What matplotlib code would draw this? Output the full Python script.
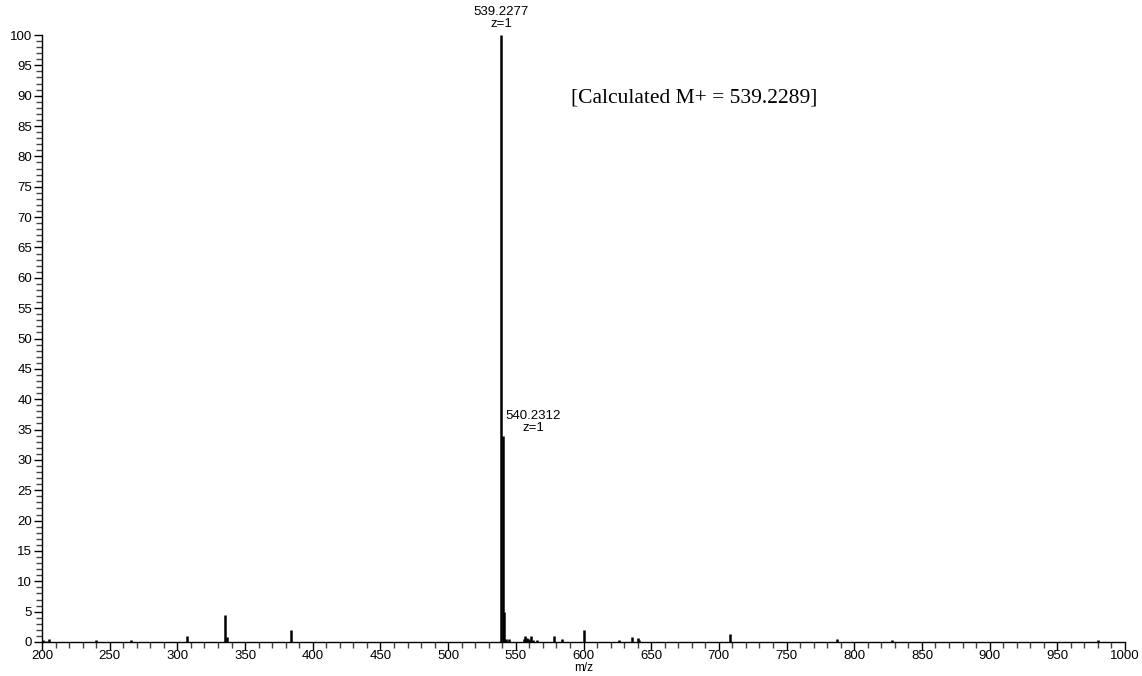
import matplotlib
matplotlib.use("Agg")
import matplotlib.pyplot as plt
from matplotlib.ticker import MultipleLocator

# peak list (m/z, relative abundance %)
mz = [201.0, 203.0, 205.0, 240.0, 266.0, 307.0, 335.5, 336.5, 384.0,
      539.23, 540.23, 541.2, 542.5, 545.0, 556.0, 557.0, 558.5, 559.5,
      561.5, 562.5, 566.0, 578.0, 584.0, 600.0, 626.0, 636.0, 640.0,
      641.0, 708.5, 787.0, 828.0, 980.0]
intensity = [0.3, 0.2, 0.5, 0.3, 0.4, 1.0, 4.5, 0.8, 1.9,
             100.0, 34.0, 5.0, 0.5, 0.5, 0.5, 1.0, 0.6, 0.5,
             1.0, 0.3, 0.4, 1.0, 0.5, 2.0, 0.3, 0.8, 0.7,
             0.4, 1.3, 0.5, 0.4, 0.3]

peak_labels = ["539.2277\nz=1", "540.2312\nz=1"]
note = "[Calculated M+ = 539.2289]"

plt.rcParams['font.family'] = ['Liberation Sans', 'DejaVu Sans']

fig = plt.figure(figsize=(11.42, 6.76), dpi=100)
ax = fig.add_axes([42 / 1142, 1 - 642 / 676, (1125 - 42) / 1142, (642 - 35) / 676])

ax.vlines(mz, 0, intensity, colors='black', linewidth=1.8)

ax.set_xlim(200, 1000)
ax.set_ylim(0, 100)
for s in ['top', 'right']:
    ax.spines[s].set_visible(False)
ax.spines['left'].set_linewidth(1.0)
ax.spines['bottom'].set_linewidth(1.0)

ax.xaxis.set_major_locator(MultipleLocator(50))
ax.xaxis.set_minor_locator(MultipleLocator(10))
ax.yaxis.set_major_locator(MultipleLocator(5))
ax.yaxis.set_minor_locator(MultipleLocator(1))
ax.tick_params(which='major', length=6, width=1, labelsize=9.5, pad=1)
ax.tick_params(axis='x', which='major', pad=0)
ax.tick_params(which='minor', length=4, width=1, color='#444444')
ax.set_xlabel("m/z", fontsize=8.5, labelpad=0)

# peak annotations
ax.text(539.2277, 100.9, peak_labels[0], ha='center', va='bottom', fontsize=9.5, linespacing=1.0)
ax.text(563, 34.2, peak_labels[1], ha='center', va='bottom', fontsize=9.5, linespacing=1.0)

ax.text(682, 89.6, note, ha='center', va='center', fontsize=15.5,
        family=['Liberation Serif', 'DejaVu Serif'])

fig.savefig("out.png", dpi=100)
